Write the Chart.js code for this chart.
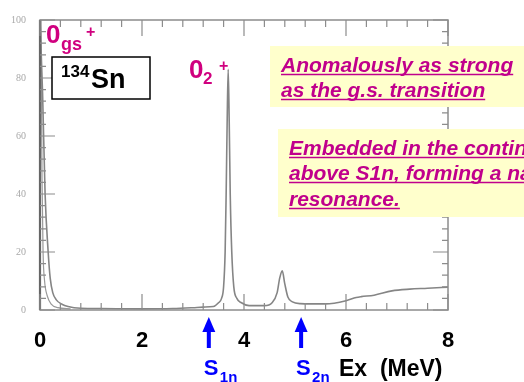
<!DOCTYPE html>
<html>
<head>
<meta charset="utf-8">
<script src="https://cdn.jsdelivr.net/npm/chart.js@4.4.0/dist/chart.umd.min.js"></script>
<style>
  html, body { margin: 0; padding: 0; background: #fff; }
</style>
</head>
<body>
<canvas id="spectrum" width="524" height="382"></canvas>
<script>
// excitation energy (MeV) and yield of the measured spectrum
var exEnergy = [0.00, 0.05, 0.10, 0.16, 0.20, 0.25, 0.32, 0.43, 0.55, 0.80, 1.20, 2.00, 2.60, 3.00, 3.20,
                3.40, 3.50, 3.56, 3.60, 3.63, 3.65, 3.67, 3.69, 3.71, 3.73, 3.76, 3.80, 3.86, 3.95, 4.10,
                4.40, 4.55, 4.65, 4.70, 4.75, 4.80, 4.86, 4.95, 5.10, 5.60, 6.00, 6.20, 6.30, 6.55, 6.90,
                7.25, 7.60, 8.00];
var counts   = [100, 75, 40, 20, 11, 6, 3.5, 2, 1.2, 0.6, 0.5, 0.4, 0.5, 0.8, 1.0,
                1.2, 2.5, 4, 8, 20, 40, 65, 83, 65, 40, 20, 8, 4, 2.5, 1.5,
                1.5, 2.5, 6, 11, 13.5, 9, 4.5, 2.8, 2.2, 2.1, 3.2, 4.3, 4.6, 5.1, 6.6,
                7.2, 7.5, 7.9];

// narrower ground-state component
var gsEnergy = [0.02, 0.04, 0.06, 0.09, 0.14, 0.22, 0.35, 0.60];
var gsCounts = [100, 45, 20, 10, 5, 2, 0.8, 0.4];

// neutron separation thresholds
var thresholdNames  = ['1n', '2n'];
var thresholdEnergy = [3.31, 5.12];

var xTicks = [0, 2, 4, 6, 8];
var yTicks = [0, 20, 40, 60, 80, 100];

function toPoints(xs, ys) {
  var pts = [];
  for (var i = 0; i < xs.length; i++) pts.push({ x: xs[i], y: ys[i] });
  return pts;
}

var FONT = "Arial, 'Liberation Sans', sans-serif";
var PINK = '#D0007F';
var PURPLE = '#C0008C';

function txt(ctx, s, x, y, font, color) {
  ctx.font = font;
  ctx.fillStyle = color;
  ctx.fillText(s, x, y);
}

function underlined(ctx, s, x, y, font, color) {
  txt(ctx, s, x, y, font, color);
  var w = ctx.measureText(s).width;
  ctx.strokeStyle = color;
  ctx.lineWidth = 1.5;
  ctx.beginPath();
  ctx.moveTo(x, y + 2.5);
  ctx.lineTo(x + w, y + 2.5);
  ctx.stroke();
}

var decor = {
  id: 'decor',
  afterDatasetsDraw: function(chart) {
    var ctx = chart.ctx;
    var a = chart.chartArea;
    var xs = chart.scales.x, ys = chart.scales.y;
    ctx.save();

    // frame
    ctx.strokeStyle = '#8c8c8c';
    ctx.lineWidth = 1.5;
    ctx.strokeRect(a.left, a.top, a.right - a.left, a.bottom - a.top);
    ctx.strokeStyle = '#666';
    ctx.lineWidth = 2.2;
    ctx.beginPath();
    ctx.moveTo(a.left, a.top);
    ctx.lineTo(a.left, a.bottom);
    ctx.stroke();

    // tick marks on all four sides
    ctx.strokeStyle = '#8c8c8c';
    ctx.lineWidth = 1.2;
    ctx.beginPath();
    for (var e = 0; e <= 8.001; e += 0.4) {
      var px = xs.getPixelForValue(e);
      var major = Math.abs(e / 2 - Math.round(e / 2)) < 0.01;
      var len = major ? 16 : 7;
      ctx.moveTo(px, a.bottom); ctx.lineTo(px, a.bottom - len);
      ctx.moveTo(px, a.top); ctx.lineTo(px, a.top + len);
    }
    for (var v = 0; v <= 100; v += 4) {
      var py = ys.getPixelForValue(v);
      var majorY = v % 20 === 0;
      var l2 = majorY ? 15 : 6;
      ctx.moveTo(a.left, py); ctx.lineTo(a.left + l2, py);
      ctx.moveTo(a.right, py); ctx.lineTo(a.right - l2, py);
    }
    ctx.stroke();

    // separation threshold arrows
    for (var i = 0; i < thresholdEnergy.length; i++) {
      var ax = xs.getPixelForValue(thresholdEnergy[i]);
      ctx.fillStyle = '#0000FF';
      ctx.beginPath();
      ctx.moveTo(ax, a.bottom + 7);
      ctx.lineTo(ax - 6.5, a.bottom + 22);
      ctx.lineTo(ax + 6.5, a.bottom + 22);
      ctx.closePath();
      ctx.fill();
      ctx.fillRect(ax - 2, a.bottom + 20, 4, 18);
      txt(ctx, 'S', ax - 5, 375, 'bold 22px ' + FONT, '#0000FF');
      txt(ctx, thresholdNames[i], ax + 11, 382, 'bold 15px ' + FONT, '#0000FF');
    }
    txt(ctx, 'Ex  (MeV)', 339, 376, 'bold 23px ' + FONT, '#000');

    // state labels
    txt(ctx, '0', 46, 43, 'bold 26px ' + FONT, PINK);
    txt(ctx, 'gs', 61, 50, 'bold 18px ' + FONT, PINK);
    txt(ctx, '+', 86, 37, 'bold 16px ' + FONT, PINK);

    txt(ctx, '0', 189, 78, 'bold 26px ' + FONT, PINK);
    txt(ctx, '2', 203, 84, 'bold 17px ' + FONT, PINK);
    txt(ctx, '+', 219, 71, 'bold 16px ' + FONT, PINK);

    // nucleus box
    ctx.fillStyle = '#fff';
    ctx.fillRect(52, 57, 98, 42);
    ctx.strokeStyle = '#000';
    ctx.lineWidth = 1.5;
    ctx.strokeRect(52, 57, 98, 42);
    txt(ctx, '134', 61, 77, 'bold 17px ' + FONT, '#000');
    txt(ctx, 'Sn', 91, 88, 'bold 27px ' + FONT, '#000');

    // comment boxes
    ctx.fillStyle = '#FFFFCC';
    ctx.fillRect(270, 46, 260, 61);
    ctx.fillRect(278, 129, 252, 88);
    var f = 'italic bold 21px ' + FONT;
    underlined(ctx, 'Anomalously as strong', 281, 72, f, PURPLE);
    underlined(ctx, 'as the g.s. transition', 281, 97, f, PURPLE);
    underlined(ctx, 'Embedded in the continuum', 289, 155, f, PURPLE);
    underlined(ctx, 'above S1n, forming a narrow', 289, 180, f, PURPLE);
    underlined(ctx, 'resonance.', 289, 206, f, PURPLE);

    ctx.restore();
  }
};

new Chart(document.getElementById('spectrum'), {
  type: 'line',
  data: {
    datasets: [
      {
        data: toPoints(exEnergy, counts),
        borderColor: '#858585',
        borderWidth: 1.6,
        pointRadius: 0,
        cubicInterpolationMode: 'monotone'
      },
      {
        data: toPoints(gsEnergy, gsCounts),
        borderColor: '#999',
        borderWidth: 1.2,
        pointRadius: 0,
        cubicInterpolationMode: 'monotone'
      }
    ]
  },
  options: {
    responsive: false,
    animation: false,
    layout: { padding: { left: 0, right: 76, top: 16, bottom: 0 } },
    plugins: { legend: { display: false }, tooltip: { enabled: false } },
    scales: {
      x: {
        type: 'linear',
        min: 0,
        max: 8,
        afterFit: function(s) { s.height = 72; },
        afterBuildTicks: function(s) { s.ticks = xTicks.map(function(v) { return { value: v }; }); },
        grid: { display: false, drawTicks: false },
        border: { display: false },
        ticks: {
          padding: 18,
          color: '#000',
          font: { family: FONT, size: 22, weight: 'bold' },
          maxRotation: 0
        }
      },
      y: {
        min: 0,
        max: 100,
        afterFit: function(s) { s.width = 40; },
        afterBuildTicks: function(s) { s.ticks = yTicks.map(function(v) { return { value: v }; }); },
        grid: { display: false, drawTicks: false },
        border: { display: false },
        ticks: {
          padding: 14,
          color: '#a8a8a8',
          font: { family: "'Liberation Serif', serif", size: 10 }
        }
      }
    }
  },
  plugins: [decor]
});
</script>
</body>
</html>
